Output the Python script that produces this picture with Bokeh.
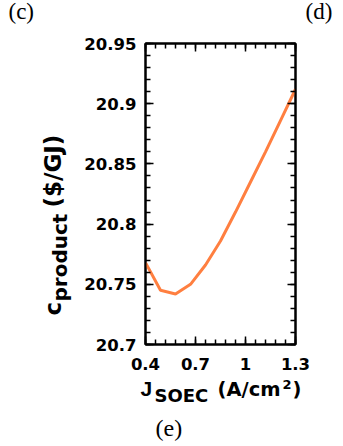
import numpy as np
from math import pi
from bokeh.plotting import figure
from bokeh.layouts import column, row
from bokeh.models import Range1d, LinearAxis, FixedTicker
from bokeh.core.properties import value
from bokeh.embed import file_html
from bokeh.resources import INLINE

# ---- data ----
j_soec = [0.40, 0.49, 0.58, 0.67, 0.76, 0.85, 0.94, 1.03, 1.12, 1.21, 1.30]
c_product = [20.768, 20.745, 20.742, 20.750, 20.766, 20.786, 20.810, 20.835, 20.860, 20.886, 20.912]

x_ticks = [0.4, 0.7, 1.0, 1.3]
x_tick_labels = ["0.4", "0.7", "1", "1.3"]
y_ticks = [20.7, 20.75, 20.8, 20.85, 20.9, 20.95]
y_tick_labels = ["20.7", "20.75", "20.8", "20.85", "20.9", "20.95"]

x_minor = [round(v, 2) for v in np.arange(0.4, 1.3001, 0.06)]
y_minor = [round(v, 2) for v in np.arange(20.7, 20.9501, 0.01)]

LINE_COLOR = "#FF7F40"
SANS = "DejaVu Sans"
SERIF = "Liberation Serif"

W = 343
TOP_H = 30
B_TOP, B_BOT = 13, 33          # main plot top / bottom borders
FRAME_H = 301
MID_H = B_TOP + FRAME_H + B_BOT
BOT_H = 446 - TOP_H - MID_H
YLAB_W = 75
BASE_FIX = 0.42                # empirical baseline correction (in em)


def blank(w, h, y0=0, y1=None, bt=0, bb=0):
    y1 = h if y1 is None else y1
    f = figure(width=w, height=h, x_range=Range1d(0, w), y_range=Range1d(y0, y1),
               output_backend="svg", toolbar_location=None, title=None,
               x_axis_location=None, y_axis_location=None,
               min_border=0, min_border_left=0, min_border_right=0,
               min_border_top=bt, min_border_bottom=bb)
    f.outline_line_color = None
    f.background_fill_color = "white"
    f.border_fill_color = "white"
    for g in f.grid:
        g.visible = False
    return f


def txt(f, x, y, s, size, angle=0.0, font=SANS, style="bold"):
    px = float(size.replace("px", ""))
    d = BASE_FIX * px
    if angle:
        x -= d
    else:
        y += d
    f.text(x=[x], y=[y], text=[s], angle=angle,
           text_font=value(font), text_font_style=style,
           text_font_size=size, text_color="black",
           text_align="left", text_baseline="alphabetic")


# ---- main plot ----
p = figure(width=W - YLAB_W, height=MID_H,
           x_range=Range1d(0.4, 1.3), y_range=Range1d(20.7, 20.95),
           output_backend="svg", toolbar_location=None, title=None,
           x_axis_location=None, y_axis_location=None,
           min_border_left=70, min_border_right=48,
           min_border_top=B_TOP, min_border_bottom=B_BOT)
p.background_fill_color = "white"
p.border_fill_color = "white"
p.outline_line_color = "black"
p.outline_line_width = 2
for g in p.grid:
    g.visible = False


def make_axis(ticks, minor, labels, show_labels, standoff):
    ax = LinearAxis(ticker=FixedTicker(ticks=ticks, minor_ticks=minor))
    ax.major_label_overrides = {t: l for t, l in zip(ticks, labels)}
    ax.axis_line_color = "black"
    ax.axis_line_width = 2
    ax.major_tick_in = 8
    ax.major_tick_out = 0
    ax.minor_tick_in = 5
    ax.minor_tick_out = 0
    ax.major_tick_line_width = 1.5
    ax.minor_tick_line_width = 1.5
    ax.major_tick_line_color = "black"
    ax.minor_tick_line_color = "black"
    ax.major_label_text_font = SANS
    ax.major_label_text_font_style = "bold"
    ax.major_label_text_color = "black"
    ax.major_label_standoff = standoff
    if show_labels:
        ax.major_label_text_font_size = "16.5px"
    else:
        ax.major_label_text_font_size = "0px"
        ax.major_label_text_alpha = 0
    return ax


p.add_layout(make_axis(y_ticks, y_minor, y_tick_labels, True, 9), "left")
p.add_layout(make_axis(y_ticks, y_minor, y_tick_labels, False, 0), "right")
p.add_layout(make_axis(x_ticks, x_minor, x_tick_labels, True, 13), "below")
p.add_layout(make_axis(x_ticks, x_minor, x_tick_labels, False, 0), "above")

p.line(j_soec, c_product, line_color=LINE_COLOR, line_width=3)

# ---- top strip: panel letters (data y = strip-bottom canvas y - canvas y) ----
top = blank(W, TOP_H)
txt(top, 8, TOP_H - 21, "(c)", "23px", font=SERIF, style="normal")
txt(top, 305, TOP_H - 21, "(d)", "23px", font=SERIF, style="normal")

# ---- y-axis title (rotated); frame aligned with the main plot frame ----
Y0 = TOP_H + MID_H  # canvas y of the strip bottom
ylab = blank(YLAB_W, MID_H, y0=B_BOT, y1=MID_H - B_TOP, bt=B_TOP, bb=B_BOT)
txt(ylab, 62, Y0 - 315, "c", "23px", angle=pi / 2)
txt(ylab, 68, Y0 - 301, "product", "20px", angle=pi / 2)
txt(ylab, 62, Y0 - 207, "($/GJ)", "23px", angle=pi / 2)

# ---- bottom strip: x-axis title and (e) ----
Yb = 446
bot = blank(W, BOT_H)
txt(bot, 140, Yb - 397, "J", "21px", font="Liberation Sans")
txt(bot, 154, Yb - 403, "SOEC", "18px")
txt(bot, 217, Yb - 397, "(A/cm", "19.5px")
txt(bot, 282, Yb - 389, "2", "13px")
txt(bot, 292, Yb - 397, ")", "19.5px")
txt(bot, 155, Yb - 438, "(e)", "24px", font=SERIF, style="normal")

layout = column(top, row(ylab, p), bot)
open("out.html", "w").write(file_html(layout, INLINE))
